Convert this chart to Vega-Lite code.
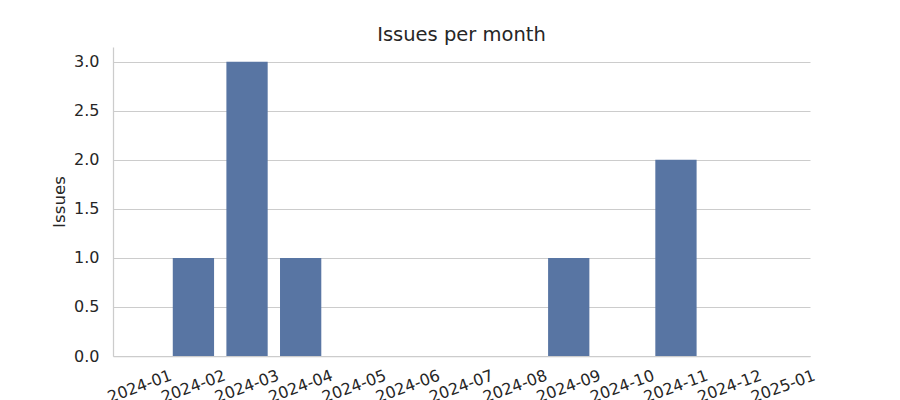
{
  "$schema": "https://vega.github.io/schema/vega-lite/v6.json",
  "autosize": "none",
  "width": 697,
  "height": 309,
  "padding": {"left": 113, "top": 47, "right": 90, "bottom": 44},
  "background": "white",
  "title": {"text": "Issues per month", "font": "DejaVu Sans", "fontSize": 19.5, "fontWeight": "normal", "color": "#262626", "anchor": "middle", "offset": 2},
  "config": {
    "view": {"stroke": null},
    "font": "DejaVu Sans"
  },
  "data": {
    "values": [
      {"month": "2024-01", "issues": 0},
      {"month": "2024-02", "issues": 1},
      {"month": "2024-03", "issues": 3},
      {"month": "2024-04", "issues": 1},
      {"month": "2024-05", "issues": 0},
      {"month": "2024-06", "issues": 0},
      {"month": "2024-07", "issues": 0},
      {"month": "2024-08", "issues": 0},
      {"month": "2024-09", "issues": 1},
      {"month": "2024-10", "issues": 0},
      {"month": "2024-11", "issues": 2},
      {"month": "2024-12", "issues": 0},
      {"month": "2025-01", "issues": 0}
    ]
  },
  "mark": {"type": "bar", "color": "#5875a3", "strokeWidth": 0},
  "encoding": {
    "x": {
      "field": "month", "type": "ordinal", "sort": null,
      "scale": {"paddingInner": 0.23, "paddingOuter": 0.115},
      "axis": {
        "title": null, "ticks": false, "grid": false,
        "domain": true, "domainColor": "#cccccc", "domainWidth": 1.25,
        "labelAngle": -20, "labelAlign": "center", "labelBaseline": "middle",
        "labelPadding": 30, "labelFontSize": 16, "labelColor": "#262626",
        "labelFont": "DejaVu Sans", "labelOverlap": false
      }
    },
    "y": {
      "field": "issues", "type": "quantitative",
      "scale": {"domain": [0, 3.15], "nice": false, "zero": true},
      "axis": {
        "title": "Issues", "titleFont": "DejaVu Sans", "titleFontSize": 16.7, "titleFontWeight": "normal",
        "titleColor": "#262626", "titlePadding": 5,
        "values": [0, 0.5, 1, 1.5, 2, 2.5, 3], "format": ".1f",
        "ticks": false, "grid": true, "gridColor": "#cccccc", "gridWidth": 1,
        "domain": true, "domainColor": "#cccccc", "domainWidth": 1.25,
        "labelPadding": 14, "labelFontSize": 16, "labelColor": "#262626", "labelFont": "DejaVu Sans"
      }
    }
  }
}
